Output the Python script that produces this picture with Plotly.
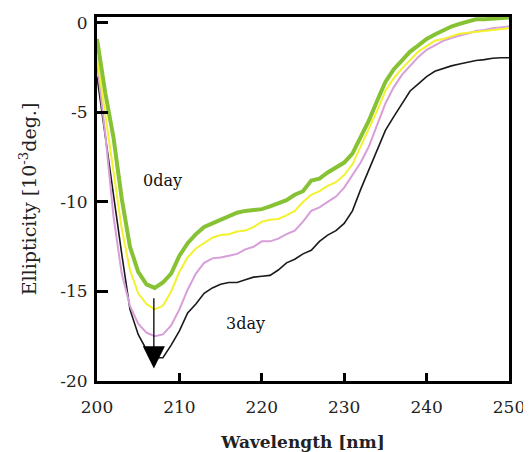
import plotly.graph_objects as go

wavelength = list(range(200, 251))

day0_green = [-0.9, -3.9, -6.4, -9.8, -12.5, -13.9, -14.6, -14.8, -14.5, -14.0,
              -13.0, -12.3, -11.8, -11.4, -11.2, -11.0, -10.8, -10.6, -10.5, -10.45,
              -10.4, -10.25, -10.1, -9.9, -9.6, -9.4, -8.8, -8.7, -8.35, -8.1,
              -7.8, -7.3, -6.4, -5.45, -4.35, -3.3, -2.6, -2.1, -1.6, -1.25,
              -0.9, -0.65, -0.4, -0.2, -0.05, 0.1, 0.2, 0.2, 0.25, 0.3, 0.3]

day1_yellow = [-1.9, -5.2, -8.4, -11.5, -13.8, -15.1, -15.7, -16.0, -15.8, -15.0,
               -13.9, -13.1, -12.6, -12.3, -12.0, -11.85, -11.8, -11.65, -11.6, -11.4,
               -11.1, -11.0, -10.95, -10.75, -10.5, -10.0, -9.6, -9.4, -9.1, -8.9,
               -8.5, -7.9, -6.9, -5.9, -4.9, -3.8, -3.1, -2.55, -2.05, -1.6,
               -1.3, -1.0, -0.9, -0.75, -0.6, -0.55, -0.5, -0.45, -0.4, -0.35, -0.3]

day2_pink = [-2.2, -6.2, -10.8, -14.0, -15.8, -16.8, -17.3, -17.5, -17.4, -16.9,
             -16.0, -14.9, -14.0, -13.4, -13.15, -13.1, -13.0, -12.9, -12.65, -12.5,
             -12.2, -12.2, -12.05, -11.8, -11.6, -11.1, -10.5, -10.3, -10.0, -9.7,
             -9.2, -8.5, -7.8, -6.9, -5.7, -4.5, -3.6, -2.9, -2.4, -1.9,
             -1.5, -1.25, -1.0, -0.85, -0.7, -0.6, -0.45, -0.4, -0.3, -0.25, -0.2]

day3_black = [-3.0, -6.4, -9.6, -12.9, -16.0, -17.4, -18.25, -18.7, -18.7, -18.0,
              -17.2, -16.2, -15.7, -15.1, -14.8, -14.6, -14.5, -14.5, -14.35, -14.2,
              -14.15, -14.1, -13.8, -13.4, -13.2, -12.9, -12.7, -12.2, -11.85, -11.6,
              -11.2, -10.5, -9.3, -8.2, -7.1, -6.0, -5.25, -4.55, -3.8, -3.4,
              -3.0, -2.7, -2.55, -2.4, -2.3, -2.2, -2.1, -2.05, -1.97, -1.95, -1.95]

x_ticks = [200, 210, 220, 230, 240, 250]
y_ticks = [0, -5, -10, -15, -20]

series = [
    ("3day", day3_black, "#1a1a1a", 1.6),
    ("2day", day2_pink, "#d89ed8", 2.0),
    ("1day", day1_yellow, "#f2f230", 2.0),
    ("0day", day0_green, "#86c234", 4.0),
]

fig = go.Figure()
for name, vals, color, width in series:
    fig.add_trace(go.Scatter(x=wavelength, y=vals, mode="lines", name=name,
                             line=dict(color=color, width=width)))

serif = "DejaVu Serif, serif"

fig.add_annotation(x=207.9, y=-8.8, text="0day", showarrow=False,
                   font=dict(family=serif, size=16, color="#111"))
fig.add_annotation(x=218.0, y=-16.8, text="3day", showarrow=False,
                   font=dict(family=serif, size=16, color="#111"))
fig.add_annotation(x=206.9, y=-19.3, ax=206.9, ay=-15.3, axref="x", ayref="y",
                   text="", showarrow=True, arrowhead=2, arrowsize=3.4,
                   arrowwidth=1.3, arrowcolor="black", standoff=0)

# page body has an 8px default margin, so the figure is sized/offset to compensate
fig.update_layout(
    width=523, height=444,
    margin=dict(l=89, r=22, t=9, b=71, autoexpand=False),
    paper_bgcolor="white", plot_bgcolor="white",
    showlegend=False,
    font=dict(family=serif, color="#222"),
)
fig.update_xaxes(
    range=[200, 250], tickvals=x_ticks, ticktext=[str(v) for v in x_ticks],
    showline=True, linewidth=3, linecolor="black", mirror=True,
    ticks="inside", ticklen=8, tickwidth=2.5, tickcolor="black",
    showgrid=False, zeroline=False, automargin=False,
    tickfont=dict(family=serif, size=17, color="#222"), ticklabelstandoff=9,
    title=dict(text="<b>Wavelength [nm]</b>", font=dict(family=serif, size=17, color="#222"),
               standoff=20),
)
fig.update_yaxes(
    range=[-20, 0.33], tickvals=y_ticks, ticktext=[str(v) for v in y_ticks],
    showline=True, linewidth=3, linecolor="black", mirror=True,
    ticks="inside", ticklen=11, tickwidth=2.5, tickcolor="black",
    showgrid=False, zeroline=False, automargin=False,
    tickfont=dict(family=serif, size=17, color="#222"), ticklabelstandoff=3,
    title=dict(text="Ellipticity [10<sup>-3</sup>deg.]",
               font=dict(family=serif, size=19, color="#222"), standoff=19),
)

fig.write_html("out.html")
